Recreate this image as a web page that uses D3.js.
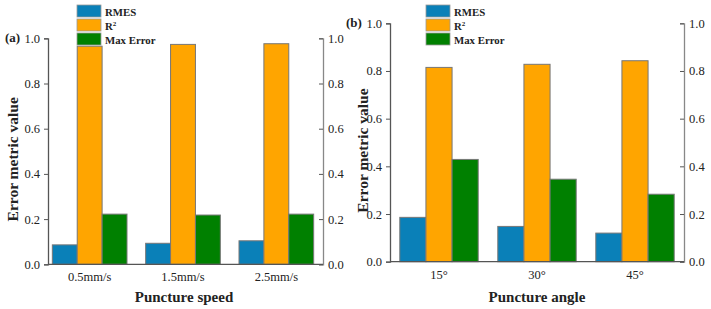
<!DOCTYPE html>
<html>
<head>
<meta charset="utf-8">
<script src="https://cdn.jsdelivr.net/npm/d3@7"></script>
<style>
  body { margin: 0; background: #fff; }
  svg { display: block; }
  text { font-family: "Liberation Serif", "Times New Roman", serif; fill: #222; }
</style>
</head>
<body>
<div id="chart"></div>
<script>
// data
const series = ["RMES", "R2", "Max Error"];
const colors = ["#0a80b8", "#ffa500", "#008000"];

const speedCats = ["0.5mm/s", "1.5mm/s", "2.5mm/s"];
const speedRmes = [0.086, 0.093, 0.104];
const speedR2 = [0.965, 0.973, 0.976];
const speedMax = [0.222, 0.218, 0.222];

const angleCats = ["15°", "30°", "45°"];
const angleRmes = [0.186, 0.148, 0.120];
const angleR2 = [0.815, 0.828, 0.843];
const angleMax = [0.429, 0.346, 0.283];

const yTicks = [0, 0.2, 0.4, 0.6, 0.8, 1.0];

const svg = d3.select("#chart").append("svg")
    .attr("width", 711)
    .attr("height", 309);

const panels = [
  { tag: "(a)", cats: speedCats, vals: [speedRmes, speedR2, speedMax], title: "Puncture speed",
    left: 48, right: 323, top: 38.3, bottom: 264.3, bandLeft: 43, tagX: 5, tagY: 42,
    yTitleX: 18, legX: 77, titleX: 184 },
  { tag: "(b)", cats: angleCats, vals: [angleRmes, angleR2, angleMax], title: "Puncture angle",
    left: 390, right: 684, top: 23.3, bottom: 261.7, bandLeft: 390, tagX: 346, tagY: 27,
    yTitleX: 368, legX: 426, titleX: 537 }
];

panels.forEach(p => {
  const g = svg.append("g");

  const x = d3.scaleBand()
      .domain(p.cats)
      .range([p.bandLeft, p.right])
      .paddingInner(0.2)
      .paddingOuter(0.1);

  const xs = d3.scaleBand()
      .domain(series)
      .range([0, x.bandwidth()]);

  const y = d3.scaleLinear()
      .domain([0, 1])
      .range([p.bottom, p.top]);

  // bars
  p.cats.forEach((c, i) => {
    series.forEach((s, j) => {
      g.append("rect")
        .attr("x", x(c) + xs(s))
        .attr("y", y(p.vals[j][i]))
        .attr("width", xs.bandwidth())
        .attr("height", y(0) - y(p.vals[j][i]))
        .attr("fill", colors[j])
        .attr("stroke", "#777")
        .attr("stroke-width", 1);
    });
  });

  // left axis
  const leftAxis = g.append("g")
      .attr("transform", `translate(${p.left},0)`)
      .call(d3.axisLeft(y).tickValues(yTicks).tickFormat(d3.format(".1f")).tickSize(4).tickPadding(4));

  // right axis, ticks pointing inward
  const rightAxis = g.append("g")
      .attr("transform", `translate(${p.right},0)`)
      .call(d3.axisLeft(y).tickValues(yTicks).tickFormat(d3.format(".1f")).tickSize(4));
  rightAxis.selectAll(".tick text")
      .attr("x", 5)
      .attr("text-anchor", "start");

  // bottom axis
  const bottomAxis = g.append("g")
      .attr("transform", `translate(0,${p.bottom})`)
      .call(d3.axisBottom(x).tickSize(0).tickPadding(8));
  bottomAxis.select(".domain").attr("d", `M${p.left},0H${p.right}`);

  [leftAxis, rightAxis, bottomAxis].forEach(a => {
    a.selectAll("text")
      .style("font-family", "'Liberation Serif', 'Times New Roman', serif")
      .style("font-size", "12.5px")
      .attr("fill", "#222");
    a.select(".domain").attr("stroke", "#555").attr("stroke-width", 1.3);
    a.selectAll(".tick line").attr("stroke", "#555");
  });
  rightAxis.select(".domain").attr("stroke", "#888");

  // panel tag
  g.append("text")
    .attr("x", p.tagX)
    .attr("y", p.tagY)
    .style("font-size", "13px")
    .style("font-weight", "bold")
    .text(p.tag);

  // y title
  g.append("text")
    .attr("transform", `translate(${p.yTitleX},${(p.top + p.bottom) / 2 + 8}) rotate(-90)`)
    .attr("text-anchor", "middle")
    .style("font-size", "15.5px")
    .style("font-weight", "bold")
    .text("Error metric value");

  // x title
  g.append("text")
    .attr("x", p.titleX)
    .attr("y", 302)
    .attr("text-anchor", "middle")
    .style("font-size", "15px")
    .style("font-weight", "bold")
    .text(p.title);

  // legend
  const leg = g.append("g").attr("transform", `translate(${p.legX},5)`);
  series.forEach((s, j) => {
    leg.append("rect")
      .attr("x", 0)
      .attr("y", j * 14)
      .attr("width", 24)
      .attr("height", 12)
      .attr("fill", colors[j])
      .attr("stroke", "#999")
      .attr("stroke-width", 0.8);
    const t = leg.append("text")
      .attr("x", 28)
      .attr("y", j * 14 + 10.5)
      .style("font-size", "10.8px")
      .style("font-weight", "bold");
    if (s === "R2") {
      t.append("tspan").text("R");
      t.append("tspan").attr("dy", -4).style("font-size", "7px").text("2");
    } else {
      t.text(s);
    }
  });
});
</script>
</body>
</html>
